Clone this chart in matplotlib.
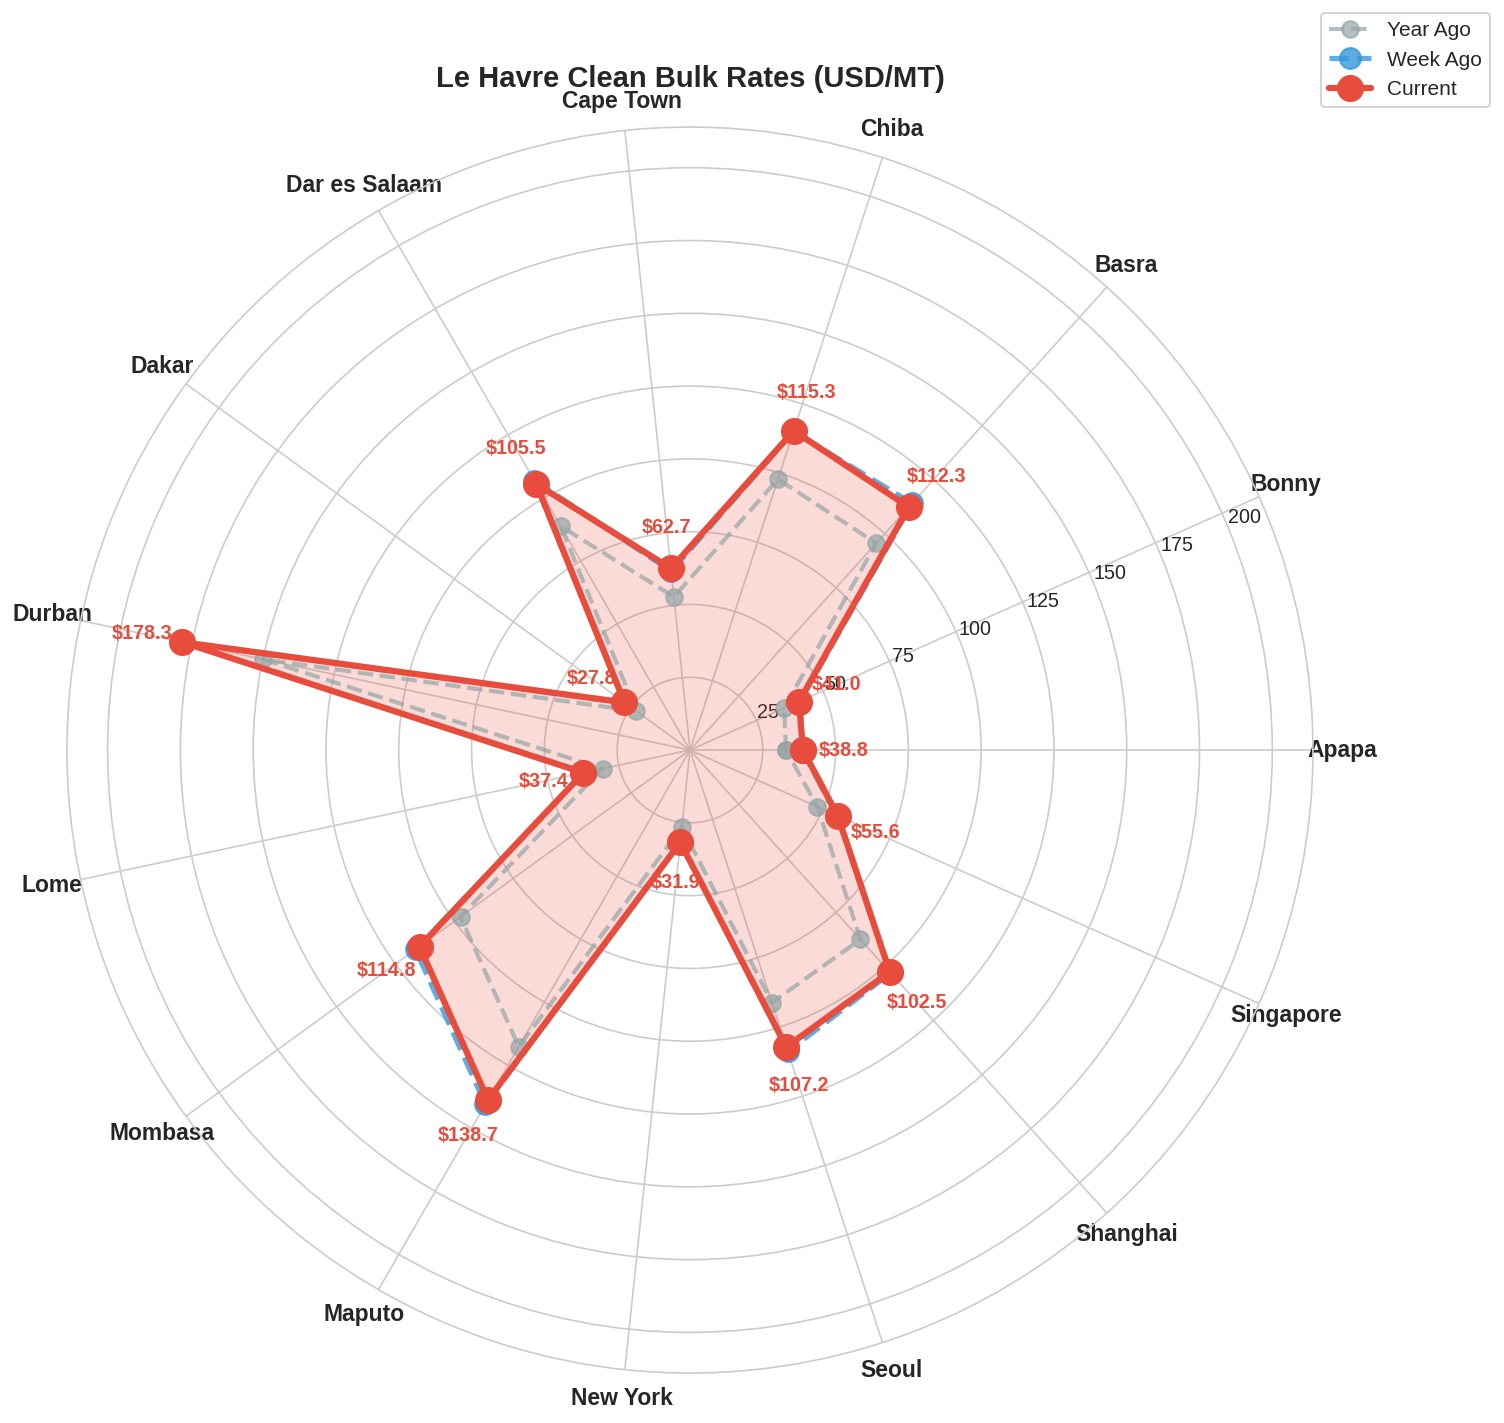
import matplotlib
matplotlib.use('Agg')
import matplotlib.pyplot as plt
import numpy as np
import seaborn as sns

ports = ['Apapa', 'Bonny', 'Basra', 'Chiba', 'Cape Town', 'Dar es Salaam', 'Dakar',
         'Durban', 'Lome', 'Mombasa', 'Maputo', 'New York', 'Seoul', 'Shanghai', 'Singapore']
current = [38.8, 41.0, 112.3, 115.3, 62.7, 105.5, 27.8, 178.3, 37.4, 114.8, 138.7, 31.9,
           107.2, 102.5, 55.6]
week_ago = [38.5, 41.5, 114.0, 115.0, 61.8, 106.8, 27.5, 178.0, 37.0, 116.5, 140.5, 31.5,
            108.8, 103.0, 55.2]
year_ago = [33.0, 35.4, 95.6, 97.8, 52.9, 88.8, 22.8, 149.8, 30.7, 97.4, 117.6, 26.7,
            91.2, 87.5, 47.9]
r_ticks = [25, 50, 75, 100, 125, 150, 175, 200]

sns.set_style('whitegrid')
plt.rcParams['font.family'] = ['Liberation Sans', 'DejaVu Sans']

n = len(ports)
angles = np.linspace(0, 2 * np.pi, n, endpoint=False)
closed = np.append(angles, angles[0])


def close(vals):
    return np.append(vals, vals[0])


fig = plt.figure(figsize=(1504 / 150, 1423 / 150), dpi=150)
ax = fig.add_axes([0.0445, 0.0351, 0.8285, 0.8756], projection='polar')

ax.plot(closed, close(year_ago), color='#95a5a6', alpha=0.7, linestyle='--', linewidth=2,
        marker='o', markersize=8, label='Year Ago')
ax.plot(closed, close(week_ago), color='#3498db', alpha=0.8, linestyle='--', linewidth=2.5,
        marker='o', markersize=10, label='Week Ago')
ax.plot(closed, close(current), color='#e74c3c', linewidth=3, marker='o', markersize=12,
        label='Current')
ax.fill(closed, close(current), color='#e74c3c', alpha=0.2)

for a, v in zip(angles, current):
    ax.text(a, v + 14, f'${v:.1f}', color='#e74c3c', fontsize=9.5, fontweight='bold',
            ha='center', va='center')

ax.set_xticks(angles)
ax.set_xticklabels(ports, fontsize=11, fontweight='bold')
ax.set_yticks(r_ticks)
ax.set_yticklabels([str(t) for t in r_ticks], fontsize=9.5)
ax.set_ylim(0, max(current) * 1.2)

ax.set_title('Le Havre Clean Bulk Rates (USD/MT)', fontsize=14, fontweight='bold',
             y=1.0, pad=19)
ax.legend(loc='upper right', bbox_to_anchor=(0.991, 0.991), bbox_transform=fig.transFigure,
          borderaxespad=0, fontsize=10)

fig.savefig('out.png', dpi=150)
